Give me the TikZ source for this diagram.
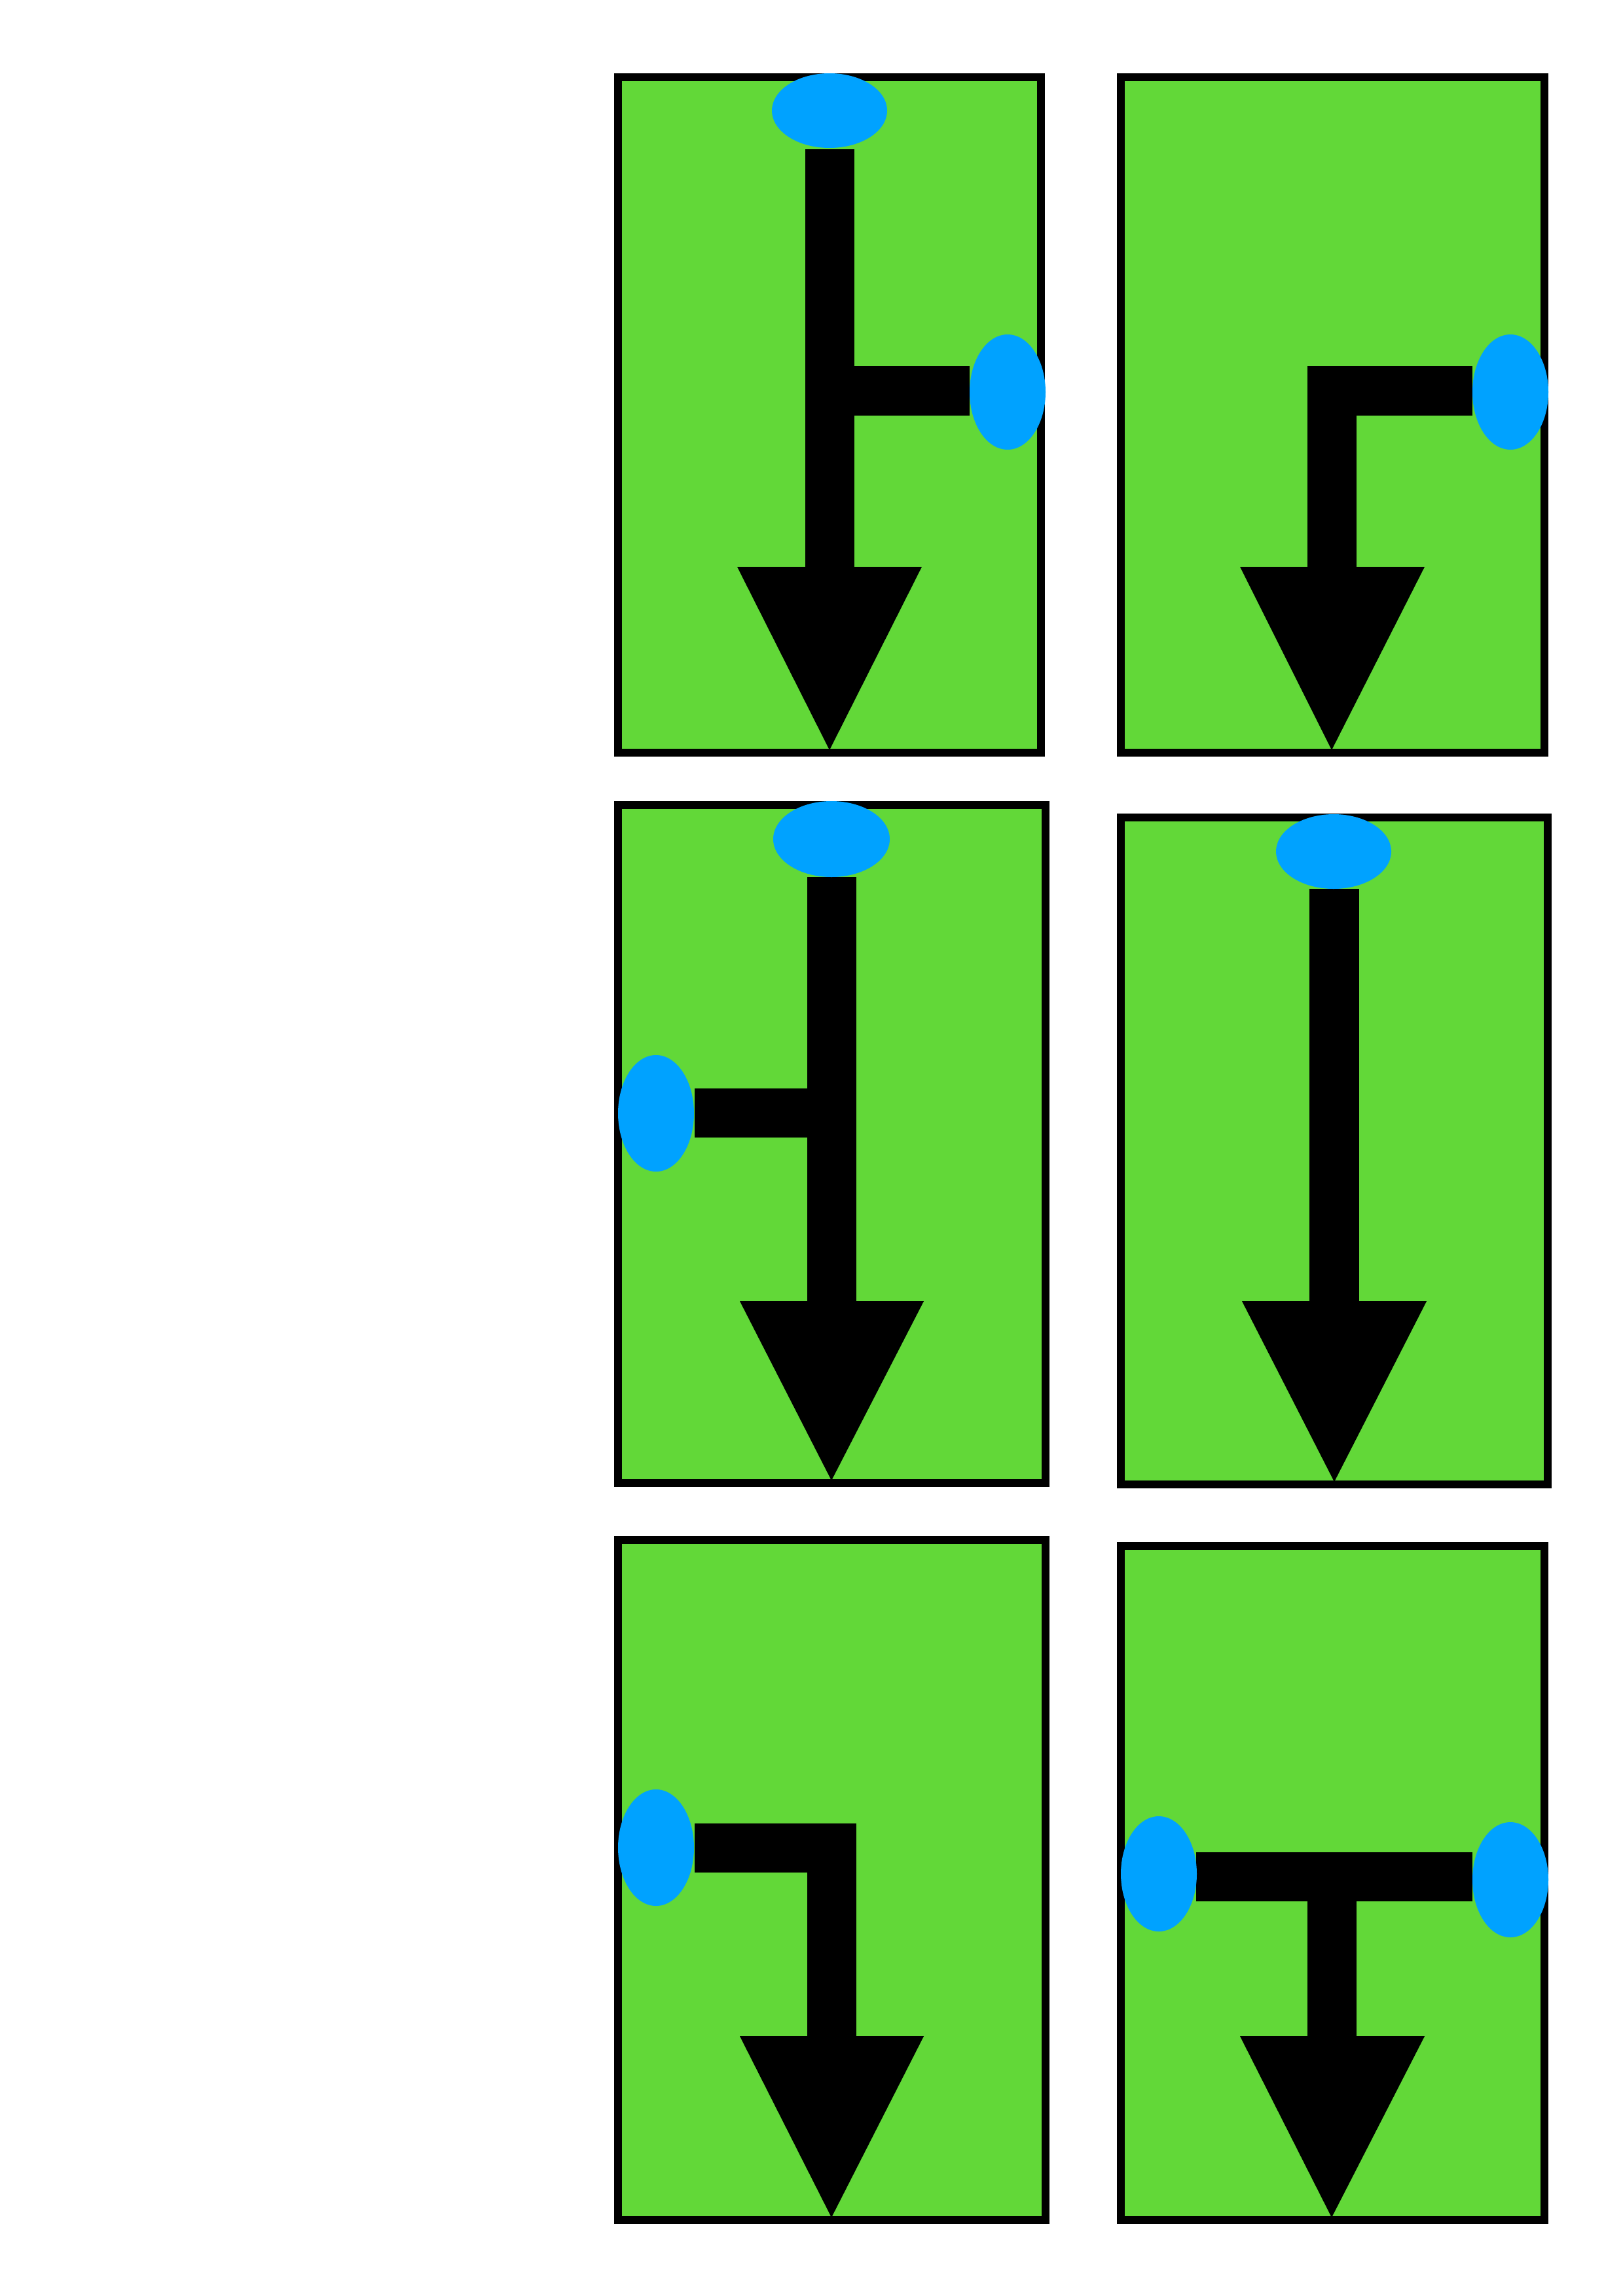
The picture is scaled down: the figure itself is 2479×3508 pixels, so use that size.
\documentclass[tikz,border=0pt]{standalone}
\definecolor{panelgreen}{RGB}{98,216,56}
\definecolor{portblue}{RGB}{0,162,255}
\begin{document}
\begin{tikzpicture}[x=0.08467mm,y=-0.08467mm,
  panel/.style={fill=panelgreen,draw=black,line width=1.016mm},
  pipe/.style={fill=black},
  port/.style={fill=portblue}]
\useasboundingbox (0,0) rectangle (2479,3508);
\fill[white] (0,0) rectangle (2479,3508);

% Panel 1 (top left)
\draw[panel] (944,118) rectangle (1590,1150);
\fill[pipe] (1230,228) rectangle (1305,870);
\fill[pipe] (1300,559) rectangle (1481,635);
\fill[pipe] (1126,866) -- (1408,866) -- (1267,1146) -- cycle;
\fill[port] (1267,169) ellipse [x radius=88, y radius=57];
\fill[port] (1539,599) ellipse [x radius=58, y radius=88];

% Panel 2 (top right)
\draw[panel] (1712,118) rectangle (2359,1150);
\fill[pipe] (1997,559) rectangle (2072,870);
\fill[pipe] (1997,559) rectangle (2249,635);
\fill[pipe] (1894,866) -- (2176,866) -- (2034,1146) -- cycle;
\fill[port] (2307,599) ellipse [x radius=58, y radius=88];

% Panel 3 (middle left)
\draw[panel] (944,1230) rectangle (1597,2266);
\fill[pipe] (1233,1340) rectangle (1308,1992);
\fill[pipe] (1061,1663) rectangle (1240,1738);
\fill[pipe] (1130,1988) -- (1411,1988) -- (1270,2262) -- cycle;
\fill[port] (1270,1282) ellipse [x radius=89, y radius=58];
\fill[port] (1002,1701) ellipse [x radius=58, y radius=89];

% Panel 4 (middle right)
\draw[panel] (1712,1249) rectangle (2364,2268);
\fill[pipe] (2000,1358) rectangle (2076,1992);
\fill[pipe] (1897,1988) -- (2179,1988) -- (2038,2264) -- cycle;
\fill[port] (2037,1301) ellipse [x radius=88, y radius=57];

% Panel 5 (bottom left)
\draw[panel] (944,2353) rectangle (1597,3392);
\fill[pipe] (1233,2786) rectangle (1308,3115);
\fill[pipe] (1061,2786) rectangle (1308,2861);
\fill[pipe] (1130,3111) -- (1411,3111) -- (1270,3388) -- cycle;
\fill[port] (1002,2823) ellipse [x radius=58, y radius=89];

% Panel 6 (bottom right)
\draw[panel] (1712,2362) rectangle (2359,3392);
\fill[pipe] (1997,2830) rectangle (2072,3115);
\fill[pipe] (1827,2830) rectangle (2249,2905);
\fill[pipe] (1894,3111) -- (2176,3111) -- (2034,3388) -- cycle;
\fill[port] (1770,2863) ellipse [x radius=58, y radius=88];
\fill[port] (2307,2872) ellipse [x radius=58, y radius=88];
\end{tikzpicture}
\end{document}
